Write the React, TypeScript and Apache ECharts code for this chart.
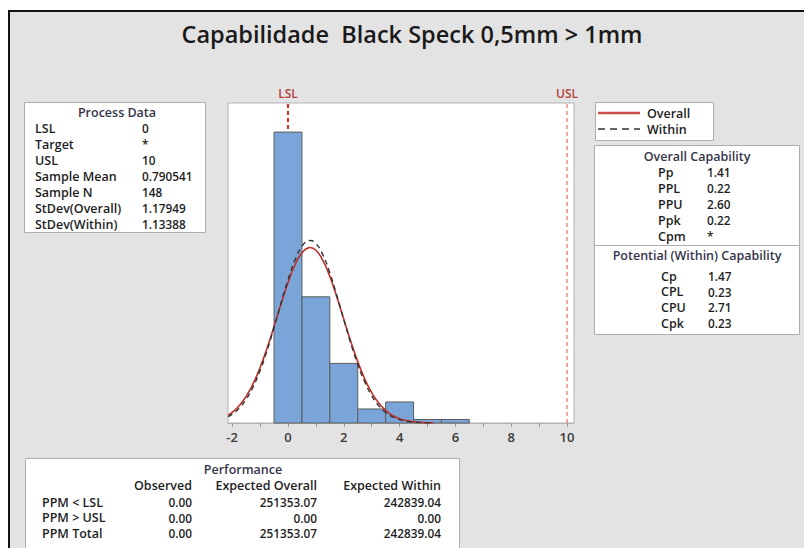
import React, { useEffect, useRef } from "react";
import * as echarts from "echarts";

// ---- data ----
const binCenters = [0, 1, 2, 3, 4, 5, 6];
const binCounts = [83, 36, 17, 4, 6, 1, 1];
const curveX = [-2.15, -2, -1.75, -1.5, -1.25, -1, -0.75, -0.5, -0.25, 0, 0.25, 0.5, 0.75, 0.79, 1, 1.25, 1.5, 1.75, 2, 2.25, 2.5, 2.75, 3, 3.25, 3.5, 3.75, 4, 4.25, 4.5, 4.75, 5, 5.2];
const overallCurve = [2.24, 3.05, 4.92, 7.6, 11.21, 15.82, 21.33, 27.51, 33.92, 39.99, 45.07, 48.56, 50.03, 50.06, 49.28, 46.4, 41.78, 35.96, 29.59, 23.28, 17.51, 12.59, 8.66, 5.69, 3.58, 2.15, 1.23, 0.68, 0.36, 0.18, 0.09, 0.04];
const withinCurve = [1.8, 2.52, 4.23, 6.77, 10.31, 14.97, 20.69, 27.25, 34.18, 40.84, 46.48, 50.39, 52.04, 52.07, 51.19, 47.97, 42.81, 36.4, 29.48, 22.74, 16.71, 11.7, 7.8, 4.95, 3.0, 1.73, 0.95, 0.5, 0.25, 0.12, 0.05, 0.02];
const xTickValues = [-2, -1, 0, 1, 2, 3, 4, 5, 6, 7, 8, 9, 10];
const xLabelValues = [-2, 0, 2, 4, 6, 8, 10];
const LSL = 0;
const USL = 10;
const Y_MAX = 91.3;

const titleText = "Capabilidade  Black Speck 0,5mm > 1mm";
const processLabels = ["LSL", "Target", "USL", "Sample Mean", "Sample N", "StDev(Overall)", "StDev(Within)"];
const processValues = ["0", "*", "10", "0.790541", "148", "1.17949", "1.13388"];
const overallCapLabels = ["Pp", "PPL", "PPU", "Ppk", "Cpm"];
const overallCapValues = ["1.41", "0.22", "2.60", "0.22", "*"];
const withinCapLabels = ["Cp", "CPL", "CPU", "Cpk"];
const withinCapValues = ["1.47", "0.23", "2.71", "0.23"];
const perfHeaders = ["Observed", "Expected Overall", "Expected Within"];
const perfRows = ["PPM < LSL", "PPM > USL", "PPM Total"];
const perfObserved = ["0.00", "0.00", "0.00"];
const perfExpOverall = ["251353.07", "0.00", "251353.07"];
const perfExpWithin = ["242839.04", "0.00", "242839.04"];

const FONT = "'Open Sans', 'Noto Sans', sans-serif";
const TXT = "#1e1e1e";
const HEAD = "#35354a";
const BOX = "#aeaeae";
const LBL = 12.5; // label font size
const NUM = 11.8; // numeric font size

function txt(x: number, y: number, text: string, opts: any = {}) {
  return {
    type: "text",
    x,
    y,
    silent: true,
    style: {
      text,
      fill: opts.fill || TXT,
      fontSize: opts.fontSize || LBL,
      fontFamily: FONT,
      fontWeight: opts.fontWeight || 600,
      align: opts.align || "left",
      verticalAlign: "middle",
    },
  };
}

function box(x: number, y: number, w: number, h: number) {
  return {
    type: "rect",
    silent: true,
    shape: { x, y, width: w, height: h },
    style: { fill: "#ffffff", stroke: BOX, lineWidth: 1 },
  };
}

export default function App() {
  const ref = useRef<HTMLDivElement>(null);

  useEffect(() => {
    if (!ref.current) return;
    const chart = echarts.init(ref.current, undefined, { renderer: "svg" });

    const graphics: any[] = [];
    // frame
    graphics.push({ type: "rect", silent: true, shape: { x: 0, y: 0, width: 804, height: 10 }, style: { fill: "#ffffff" } });
    graphics.push({ type: "rect", silent: true, shape: { x: 0, y: 0, width: 8, height: 548 }, style: { fill: "#ffffff" } });
    graphics.push({ type: "rect", silent: true, shape: { x: 8, y: 10, width: 796, height: 2 }, style: { fill: "#111111" } });
    graphics.push({ type: "rect", silent: true, shape: { x: 8, y: 10, width: 2, height: 538 }, style: { fill: "#111111" } });
    // title
    graphics.push(txt(412, 34, titleText, { fontSize: 23.5, align: "center", fill: "#1a1a1a", fontWeight: 600 }));

    // Process data
    graphics.push(box(24.5, 102.5, 181, 130));
    graphics.push(txt(117, 112, "Process Data", { align: "center", fill: HEAD }));
    processLabels.forEach((l, i) => {
      graphics.push(txt(35, 128 + 16 * i, l));
      graphics.push(txt(142, 128 + 16 * i, processValues[i], { fontSize: NUM }));
    });

    // legend
    graphics.push(box(595.5, 102.5, 118, 38));
    graphics.push({ type: "line", silent: true, shape: { x1: 598, y1: 113, x2: 640, y2: 113 }, style: { stroke: "#c9504a", lineWidth: 2.5 } });
    graphics.push(txt(647, 113, "Overall"));
    graphics.push({ type: "line", silent: true, shape: { x1: 598, y1: 129, x2: 640, y2: 129 }, style: { stroke: "#333333", lineWidth: 1.5, lineDash: [7, 5] } });
    graphics.push(txt(647, 129, "Within"));

    // capability
    graphics.push(box(594.5, 145.5, 205, 189));
    graphics.push({ type: "line", silent: true, shape: { x1: 594.5, y1: 245.5, x2: 799.5, y2: 245.5 }, style: { stroke: BOX, lineWidth: 1 } });
    graphics.push(txt(697, 156, "Overall Capability", { align: "center", fill: HEAD }));
    overallCapLabels.forEach((l, i) => {
      graphics.push(txt(658, 172 + 16 * i, l));
      graphics.push(txt(707, 172 + 16 * i, overallCapValues[i], { fontSize: NUM }));
    });
    graphics.push(txt(697, 255, "Potential (Within) Capability", { align: "center", fill: HEAD }));
    withinCapLabels.forEach((l, i) => {
      graphics.push(txt(661, 276 + 15.7 * i, l));
      graphics.push(txt(708, 276 + 15.7 * i, withinCapValues[i], { fontSize: NUM }));
    });

    // performance
    graphics.push(box(25.5, 458.5, 434, 95));
    graphics.push(txt(243, 469, "Performance", { align: "center", fill: HEAD }));
    const colX = [192, 317, 441];
    perfHeaders.forEach((h, i) => graphics.push(txt(colX[i], 485, h, { align: "right" })));
    perfRows.forEach((r, i) => {
      const y = 502 + 15.7 * i;
      graphics.push(txt(42, y, r));
      graphics.push(txt(colX[0], y, perfObserved[i], { align: "right", fontSize: NUM }));
      graphics.push(txt(colX[1], y, perfExpOverall[i], { align: "right", fontSize: NUM }));
      graphics.push(txt(colX[2], y, perfExpWithin[i], { align: "right", fontSize: NUM }));
    });

    const histData = binCenters.map((c, i) => [c - 0.5, c + 0.5, binCounts[i]]);

    chart.setOption({
      animation: false,
      backgroundColor: "#e3e3e3",
      textStyle: { fontFamily: FONT },
      grid: {
        left: 228,
        top: 103,
        width: 346,
        height: 320,
        show: true,
        backgroundColor: "#ffffff",
        borderColor: "#b4b4b4",
        borderWidth: 1,
      },
      xAxis: {
        type: "value",
        min: -2.15,
        max: 10.25,
        splitLine: { show: false },
        axisLine: { lineStyle: { color: "#b4b4b4" } },
        axisTick: { show: true, customValues: xTickValues, length: 4, lineStyle: { color: "#9a9a9a" } },
        axisLabel: { customValues: xLabelValues, color: "#3a3a3a", fontSize: 13, fontWeight: 600, margin: 7, fontFamily: FONT },
      },
      yAxis: {
        type: "value",
        min: 0,
        max: Y_MAX,
        show: false,
        splitLine: { show: false },
      },
      graphic: graphics,
      series: [
        {
          type: "line",
          name: "LSL",
          z: 1,
          data: [[LSL, 0], [LSL, Y_MAX]],
          showSymbol: false,
          silent: true,
          lineStyle: { color: "#e02424", type: [4, 3], width: 2 },
          markLine: {
            silent: true,
            symbol: "none",
            lineStyle: { color: "rgba(0,0,0,0)", width: 0, type: "solid" },
            label: { show: true, position: "end", color: "#b5403a", fontSize: 12, fontWeight: 600, fontFamily: FONT, distance: 4 },
            data: [
              { xAxis: LSL, label: { formatter: "LSL" } },
              { xAxis: USL, label: { formatter: "USL" } },
            ],
          },
        },
        {
          type: "line",
          name: "USL",
          z: 1,
          data: [[USL, 0], [USL, Y_MAX]],
          showSymbol: false,
          silent: true,
          lineStyle: { color: "#e86a6a", type: [4, 3], width: 1.2 },
        },
        {
          type: "custom",
          name: "hist",
          z: 2,
          data: histData,
          encode: { x: [0, 1], y: 2 },
          renderItem: (params: any, api: any) => {
            const p0 = api.coord([api.value(0), api.value(2)]);
            const p1 = api.coord([api.value(1), 0]);
            return {
              type: "rect",
              shape: { x: p0[0], y: p0[1], width: p1[0] - p0[0], height: p1[1] - p0[1] },
              style: { fill: "#7aa5d9", stroke: "#5c5c5c", lineWidth: 1 },
            };
          },
        },
        {
          type: "line",
          name: "Overall",
          z: 3,
          data: curveX.map((x, i) => [x, overallCurve[i]]),
          smooth: true,
          showSymbol: false,
          lineStyle: { color: "#c0302a", width: 1.6 },
        },
        {
          type: "line",
          name: "Within",
          z: 4,
          data: curveX.map((x, i) => [x, withinCurve[i]]),
          smooth: true,
          showSymbol: false,
          lineStyle: { color: "#333333", width: 1.4, type: [5, 4] },
        },
      ],
    });

    return () => chart.dispose();
  }, []);

  return <div ref={ref} style={{ position: "fixed", left: 0, top: 0, width: 804, height: 548 }} />;
}
